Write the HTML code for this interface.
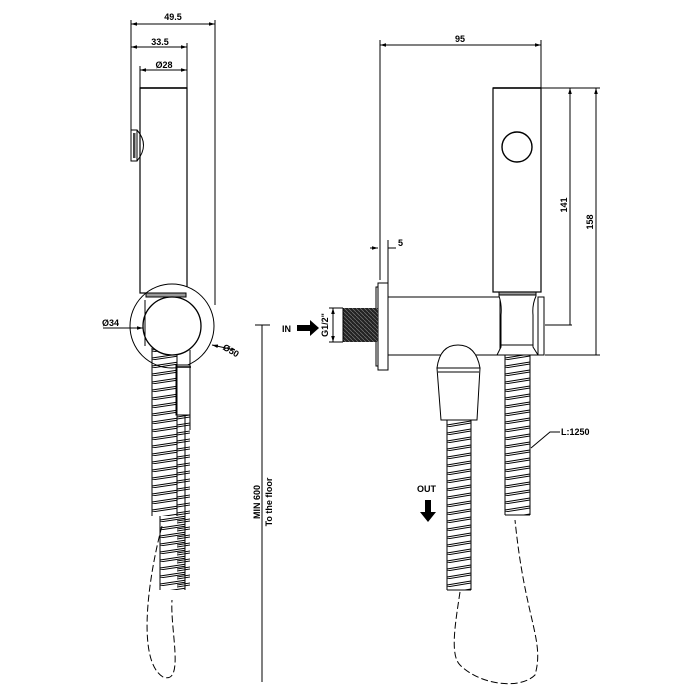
<!DOCTYPE html>
<html><head><meta charset="utf-8"><style>
html,body{margin:0;padding:0;background:#fff;}
svg{display:block;}
text{font-family:"Liberation Sans",sans-serif;font-weight:bold;fill:#000;}
</style></head><body>
<svg width="700" height="700" viewBox="0 0 700 700" xmlns="http://www.w3.org/2000/svg">
<defs>
<pattern id="c152" patternUnits="userSpaceOnUse" x="152" y="0" width="30" height="8">
<path d="M0,6 L30,1.5 M0,8 L30,3.5" stroke="#000" stroke-width="0.9" fill="none"/>
</pattern>
<pattern id="c160" patternUnits="userSpaceOnUse" x="160" y="2" width="30" height="8">
<path d="M0,6 L30,1.5 M0,8 L30,3.5" stroke="#000" stroke-width="0.9" fill="none"/>
</pattern>
<pattern id="c177" patternUnits="userSpaceOnUse" x="177" y="4" width="15" height="8">
<path d="M0,5 L15,2.7 M0,7 L15,4.7" stroke="#000" stroke-width="0.9" fill="none"/>
</pattern>
<pattern id="c505" patternUnits="userSpaceOnUse" x="505" y="0" width="25" height="8">
<path d="M0,6 L25,2 M0,8 L25,4" stroke="#000" stroke-width="0.9" fill="none"/>
</pattern>
<pattern id="c447" patternUnits="userSpaceOnUse" x="447" y="3" width="24" height="8">
<path d="M0,6 L24,2 M0,8 L24,4" stroke="#000" stroke-width="0.9" fill="none"/>
</pattern>
<pattern id="hatch" patternUnits="userSpaceOnUse" width="4" height="4">
<rect width="4" height="4" fill="#222"/>
<path d="M0,0 L4,4" stroke="#777" stroke-width="0.7"/>
</pattern>
<marker id="ar" viewBox="0 0 10 10" refX="10" refY="5" markerWidth="6" markerHeight="6" orient="auto-start-reverse"><path d="M0,2 L10,5 L0,8z" fill="#000"/></marker>
</defs>
<g stroke="#000" fill="none" stroke-width="1">
<line x1="131" y1="20" x2="131" y2="160"/>
<line x1="215" y1="20" x2="215" y2="305"/>
<line x1="187" y1="43" x2="187" y2="88"/>
<line x1="140" y1="66" x2="140" y2="88"/>
<line x1="131" y1="24" x2="215" y2="24" marker-start="url(#ar)" marker-end="url(#ar)"/>
<line x1="131" y1="47" x2="187" y2="47" marker-start="url(#ar)" marker-end="url(#ar)"/>
<line x1="140" y1="70" x2="187" y2="70" marker-start="url(#ar)" marker-end="url(#ar)"/>
<rect x="140" y="88" width="47" height="205" fill="#fff" stroke-width="1.2"/>
<line x1="140" y1="88" x2="187" y2="88" stroke-width="1.5"/>
<rect x="131" y="130" width="6" height="31" fill="#fff"/>
<rect x="133" y="133" width="2.5" height="25" fill="#444" stroke="none"/>
<path d="M137,130 Q150,145 137,161"/>
<circle cx="172" cy="326" r="42" fill="#fff"/>
<rect x="146" y="293" width="40" height="4" fill="#999"/>
<rect x="176" y="365" width="14" height="50" fill="#fff"/>
<line x1="176" y1="367" x2="191" y2="367" stroke-width="1.5"/>
<rect x="177" y="415" width="13" height="175" fill="url(#c177)" stroke="none"/>
<rect x="152" y="348" width="25" height="168" fill="url(#c152)" stroke="none"/>
<line x1="152" y1="348" x2="152" y2="516"/>
<line x1="177" y1="355" x2="177" y2="516"/>
<rect x="160" y="516" width="25" height="74" fill="url(#c160)" stroke="none"/>
<line x1="160" y1="516" x2="160" y2="590"/>
<line x1="185" y1="415" x2="185" y2="590"/>
<line x1="190" y1="415" x2="190" y2="430"/>
<circle cx="172" cy="326" r="29" fill="#fff" stroke-width="1.3"/>
<line x1="145" y1="300" x2="145" y2="346"/>
<line x1="190" y1="350" x2="190" y2="367"/>
<path d="M162,526 C150,570 135,660 163,677 C185,685 170,630 172,600" stroke-dasharray="7,3"/>
<line x1="103" y1="328" x2="143" y2="328" marker-end="url(#ar)"/>
<line x1="235" y1="350" x2="212" y2="345" marker-end="url(#ar)"/>
<line x1="262" y1="325" x2="262" y2="682"/>
<line x1="255" y1="325" x2="270" y2="325"/>
<line x1="380" y1="40" x2="380" y2="280"/>
<line x1="541" y1="40" x2="541" y2="88"/>
<line x1="380" y1="45" x2="541" y2="45" marker-start="url(#ar)" marker-end="url(#ar)"/>
<line x1="541" y1="88" x2="600" y2="88"/>
<line x1="570" y1="88" x2="570" y2="325" marker-start="url(#ar)"/>
<line x1="596" y1="88" x2="596" y2="355" marker-start="url(#ar)"/>
<line x1="545" y1="325" x2="572" y2="325"/>
<line x1="545" y1="355" x2="600" y2="355"/>
<line x1="388" y1="240" x2="388" y2="283"/>
<line x1="370" y1="248" x2="378" y2="248" marker-end="url(#ar)"/>
<line x1="388" y1="248" x2="396" y2="248"/>
<rect x="493" y="88" width="48" height="204" fill="#fff" stroke-width="1.2"/>
<line x1="493" y1="88" x2="541" y2="88" stroke-width="1.5"/>
<circle cx="517" cy="147" r="15" stroke-width="1.4"/>
<rect x="388" y="297" width="112" height="58" fill="#fff"/>
<rect x="378" y="283" width="10" height="87" fill="#fff"/>
<rect x="376" y="287" width="2" height="79" fill="#fff"/>
<rect x="343" y="308" width="35" height="34" fill="url(#hatch)" stroke="none"/>
<line x1="343" y1="308" x2="343" y2="342"/>
<line x1="329" y1="308" x2="343" y2="308"/>
<line x1="329" y1="342" x2="343" y2="342"/>
<line x1="333" y1="308" x2="333" y2="342" marker-start="url(#ar)" marker-end="url(#ar)"/>
<rect x="538" y="297" width="6" height="58" fill="#fff"/>
<path d="M499,293 L536,293 L536,296 Q532,305 533,315 L533,347 L538,355 L497,355 L501,347 L501,315 Q502,305 499,296 Z" fill="#fff"/>
<rect x="499" y="292" width="37" height="3" fill="#999"/>
<line x1="501" y1="345" x2="533" y2="345"/>
<rect x="505" y="355" width="25" height="160" fill="url(#c505)" stroke="none"/>
<line x1="505" y1="355" x2="505" y2="515"/>
<line x1="530" y1="355" x2="530" y2="515"/>
<line x1="505" y1="515" x2="530" y2="515"/>
<path d="M437,368 Q440,345 458,345 Q476,345 480,368 Z" fill="#fff"/>
<path d="M437,368 L480,368 L477,420 L441,420 Z" fill="#fff"/>
<line x1="438" y1="372" x2="479" y2="372"/>
<rect x="447" y="420" width="24" height="170" fill="url(#c447)" stroke="none"/>
<line x1="447" y1="420" x2="447" y2="590"/>
<line x1="471" y1="420" x2="471" y2="590"/>
<line x1="447" y1="590" x2="471" y2="590"/>
<path d="M460,592 C455,625 450,655 460,665 C480,685 520,690 535,675 C545,640 525,620 515,520" stroke-dasharray="7,3"/>
<path d="M531,448 L550,432 L560,432"/>
</g>
<path d="M297,325 L310,325 L310,320 L319,328 L310,336 L310,331 L297,331 Z" fill="#000"/>
<path d="M425,500 L431,500 L431,512 L436,512 L428,522 L420,512 L425,512 Z" fill="#000"/>
<text x="173" y="20" font-size="9" text-anchor="middle">49.5</text>
<text x="160" y="45" font-size="9" text-anchor="middle">33.5</text>
<text x="164" y="68" font-size="9" text-anchor="middle">Ø28</text>
<text x="102" y="326" font-size="9">Ø34</text>
<text x="222" y="349" font-size="9" transform="rotate(30 222 349)">Ø50</text>
<text x="460" y="42" font-size="9" text-anchor="middle">95</text>
<text x="398" y="246" font-size="9">5</text>
<text x="567" y="205" font-size="9" text-anchor="middle" transform="rotate(-90 567 205)">141</text>
<text x="593" y="222" font-size="9" text-anchor="middle" transform="rotate(-90 593 222)">158</text>
<text x="328" y="325" font-size="9" text-anchor="middle" transform="rotate(-90 328 325)">G1/2"</text>
<text x="282" y="332" font-size="9">IN</text>
<text x="417" y="492" font-size="9">OUT</text>
<text x="561" y="435" font-size="9">L:1250</text>
<text x="260" y="502" font-size="9" text-anchor="middle" transform="rotate(-90 260 502)">MIN 600</text>
<text x="272" y="502" font-size="9" text-anchor="middle" transform="rotate(-90 272 502)">To the floor</text>
</svg>
</body></html>
